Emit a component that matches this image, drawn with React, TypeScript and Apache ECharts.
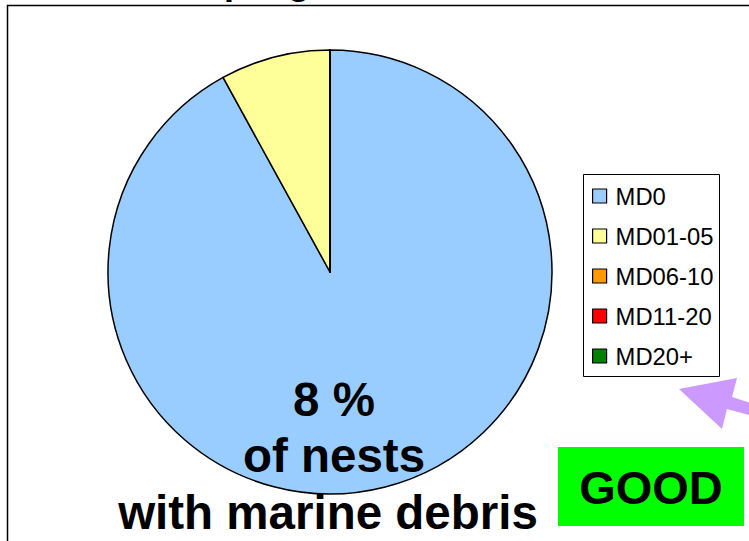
import React, { useEffect, useRef } from "react";
import * as echarts from "echarts";

const categories = ["MD0", "MD01-05", "MD06-10", "MD11-20", "MD20+"];
const values = [92, 8, 0, 0, 0];
const colors = ["#99ccff", "#ffff99", "#ff9900", "#ff0000", "#008000"];
const titleText = "Sampling";
const bigLines = ["8 %", "of nests", "with marine debris"];
const badgeText = "GOOD";

const FONT = "'Liberation Sans', Arial, sans-serif";

export default function App() {
  const ref = useRef<HTMLDivElement>(null);
  useEffect(() => {
    if (!ref.current) return;
    const chart = echarts.init(ref.current, null, { renderer: "svg" });
    chart.setOption({
      animation: false,
      backgroundColor: "#ffffff",
      legend: {
        orient: "vertical",
        left: 592,
        top: 184,
        padding: 0,
        itemGap: 16,
        itemWidth: 14,
        itemHeight: 14,
        icon: "rect",
        selectedMode: false,
        textStyle: {
          fontFamily: FONT,
          fontSize: 23.8,
          color: "#000",
          lineHeight: 24,
          padding: [0, 0, 0, 4],
        },
        data: categories.map((c, i) => ({
          name: c,
          itemStyle: { color: colors[i], borderColor: "#000", borderWidth: 1.2 },
        })),
      },
      series: [
        {
          type: "pie",
          center: [330, 272],
          radius: 222,
          startAngle: 90,
          clockwise: true,
          silent: true,
          label: { show: false },
          labelLine: { show: false },
          itemStyle: { borderColor: "#000", borderWidth: 1.5 },
          data: categories.map((c, i) => ({
            name: c,
            value: values[i],
            itemStyle: { color: colors[i] },
          })),
        },
      ],
      graphic: [
        {
          type: "rect",
          z: 1,
          silent: true,
          shape: { x: 7.5, y: 5.5, width: 900, height: 900 },
          style: { fill: "none", stroke: "#000", lineWidth: 1.5 },
        },
        {
          type: "text",
          z: 1,
          left: 148,
          top: -37,
          style: { text: titleText, font: `bold 36px ${FONT}`, fill: "#000" },
        },
        {
          type: "rect",
          z: 1,
          silent: true,
          shape: { x: 583.5, y: 174.5, width: 136, height: 202 },
          style: { fill: "#fff", stroke: "#000", lineWidth: 1 },
        },
        {
          type: "polygon",
          z: 100,
          silent: true,
          shape: {
            points: [
              [679, 389],
              [737, 378],
              [732, 397],
              [760, 406],
              [760, 418],
              [727, 409],
              [722, 429],
            ],
          },
          style: { fill: "#cc99ff" },
        },
        {
          type: "rect",
          z: 100,
          silent: true,
          shape: { x: 558, y: 447, width: 186, height: 79 },
          style: { fill: "#00ff00" },
        },
        {
          type: "text",
          z: 101,
          x: 651,
          y: 487,
          style: {
            text: badgeText,
            font: `bold 47px ${FONT}`,
            fill: "#000",
            align: "center",
            verticalAlign: "middle",
          },
        },
        ...bigLines.map((t, i) => ({
          type: "text",
          z: 101,
          x: [334, 334, 328][i],
          y: [399, 455, 512][i],
          style: {
            text: t,
            font: `bold 47.5px ${FONT}`,
            fill: "#000",
            align: "center",
            verticalAlign: "middle",
          },
        })),
      ],
    });
    return () => chart.dispose();
  }, []);
  return (
    <div
      ref={ref}
      style={{ position: "fixed", left: 0, top: 0, width: 749, height: 541, background: "#fff" }}
    />
  );
}
